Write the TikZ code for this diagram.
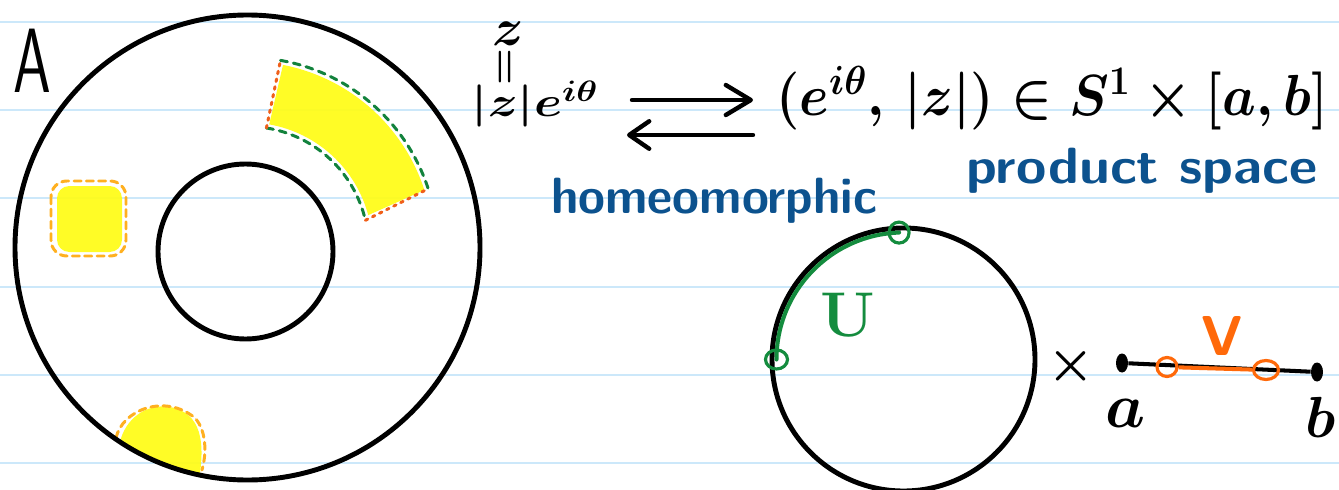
\RequirePackage{fix-cm}
\documentclass[tikz,border=0pt]{standalone}
\usepackage{tikz}
\usetikzlibrary{arrows.meta,shapes.geometric,positioning}

\definecolor{ruleblue}{RGB}{204,232,250}
\definecolor{blobyellow}{RGB}{255,252,20}
\definecolor{bloborange}{RGB}{255,176,32}
\definecolor{bandgreen}{RGB}{18,130,60}
\definecolor{bandred}{RGB}{240,95,25}
\definecolor{ugreen}{RGB}{20,140,62}
\definecolor{vorange}{RGB}{255,105,10}
\definecolor{noteblue}{RGB}{12,82,142}

\tikzset{
  ruled/.style={
    line width=1.1pt,
    ruleblue
  },
  ring/.style={
    line width=2.8pt
  },
  blob/.style={
    fill=blobyellow,
    fill opacity=0.92
  },
  blobedge/.style={
    draw=bloborange,
    line width=1.7pt,
    line cap=round,
    dash pattern=on 4pt off 3pt
  },
  openedge/.style={
    draw=bandgreen,
    line width=1.7pt,
    line cap=round,
    dash pattern=on 4pt off 3.5pt
  },
  closededge/.style={
    draw=bandred,
    line width=1.7pt,
    line cap=round,
    dash pattern=on 1.5pt off 3pt
  },
  rarrow/.style={
    line width=2.5pt,
    line cap=round,
    -{Straight Barb[length=5mm,width=6mm,round]}
  },
  larrow/.style={
    line width=2.5pt,
    line cap=round,
    -{Straight Barb[length=4mm,width=5.5mm,round]}
  },
  formula/.style={
    inner sep=0pt,
    font=\boldmath\fontsize{33}{33}\selectfont
  },
  note/.style={
    inner sep=0pt,
    text=noteblue,
    font=\sffamily\bfseries\fontsize{29}{29}\selectfont
  },
  endpt/.style={
    shape=ellipse,
    fill,
    inner sep=0pt,
    minimum width=0.24cm,
    minimum height=0.38cm
  },
  openpt/.style={
    shape=ellipse,
    draw,
    line width=1.8pt,
    inner sep=0pt,
    minimum width=0.44cm,
    minimum height=0.38cm
  }
}

\begin{document}
\begin{tikzpicture}[x=0.02cm,y=-0.02cm]
    \def\ox{247.5}
    \def\oy{247.5}
    \def\sx{903.5}
    \def\sy{359.5}
    \path[use as bounding box,fill=white] (0,0) rectangle (1339,490);
    \foreach \ly in {22,110,198,287,375,463}
        \draw[ruled] (0,\ly) -- (1339,\ly);

    % the set A with its open pieces
    \begin{scope}[shift={(\ox,\oy)}]
        \fill[blob] (-79:186) arc[start angle=-79,end angle=-18,radius=186]
            -- (-15:125) arc[start angle=-15,end angle=-80,radius=125] -- cycle;
        \draw[openedge] (-80:190) arc[start angle=-80,end angle=-18,radius=190];
        \draw[openedge] (-81:121) arc[start angle=-81,end angle=-13,radius=121];
        \draw[closededge] (-81:121) -- (-80:190);
        \draw[closededge] (-13:121) -- (-18:190);
    \end{scope}
    \fill[blob,rounded corners=7pt] (57,186) rectangle (122,252);
    \draw[blobedge,rounded corners=9pt] (51,181) rectangle (126,256);
    \fill[blob] (120,442) arc[start angle=123.2,end angle=101.8,radius=232.5]
        .. controls (204,445) and (203,413) .. (170,407)
        .. controls (145,403) and (125,420) .. (120,442) -- cycle;
    \draw[blobedge] (116,438) .. controls (122,410) and (165,393) .. (195,418)
        .. controls (206,430) and (207,452) .. (202,470);
    \draw[ring] (\ox,\oy) circle[radius=232.5];
    \draw[ring] (245.5,251.5) circle[radius=87.5];
    \node[font=\sffamily\fontsize{52}{52}\selectfont,inner sep=0pt,xscale=0.66,anchor=base] (setA) at (32,92) {A};

    % polar form and the product
    \node[formula,font=\boldmath\fontsize{30}{30}\selectfont] (zed) at (508,34) {$z$};
    \node[formula,font=\boldmath\fontsize{24}{24}\selectfont,rotate=90] (eq) at (507,67) {$=$};
    \node[formula,font=\boldmath\fontsize{24}{24}\selectfont,xscale=1.2,anchor=east] (polar) at (599,104) {$|z|e^{i\theta}$};
    \node[formula,xscale=0.92,anchor=west] (prod) at (776,98) {$(e^{i\theta},\,|z|)\in S^1\times[a,b]$};
    \draw[rarrow,shorten <=0.66cm,shorten >=0.46cm] ([yshift=0.08cm]polar.east) -- ([yshift=0.08cm]polar.east -| prod.west);
    \draw[larrow,shorten <=0.46cm,shorten >=0.56cm] ([yshift=-0.62cm]polar.east -| prod.west) -- ([yshift=-0.62cm]polar.east);
    \node[note,anchor=base,xscale=0.96] (homeo) at (714,213) {homeomorphic};
    \node[note,anchor=base,xscale=1.08] (prodsp) at (1142,183) {product space};

    % circle times interval
    \draw[ring] (\sx,\sy) circle[radius=131.5];
    \coordinate (ustart) at (776.5,359.5);
    \draw[ugreen,line width=2.3pt,line cap=round] (ustart) arc[start angle=180,end angle=268,radius=127] coordinate (uend);
    \node[openpt,draw=ugreen] (ua) at (ustart) {};
    \node[openpt,draw=ugreen,minimum width=0.4cm,minimum height=0.42cm] (ub) at (uend) {};
    \node[text=ugreen,inner sep=0pt,font=\bfseries\fontsize{36}{36}\selectfont] (ulab) at (848,315) {U};
    \node[formula,font=\boldmath\fontsize{30}{30}\selectfont] (times) at (1071,366) {$\times$};
    \node[endpt] (pa) at (1122,363) {};
    \node[endpt] (pb) at (1317,372) {};
    \draw[line width=2.3pt] (pa) -- (pb);
    \node[openpt,draw=vorange,minimum width=0.4cm] (va) at (1167,367) {};
    \node[openpt,draw=vorange,minimum width=0.5cm] (vb) at (1266,370) {};
    \draw[vorange,line width=2.3pt] (va) -- (vb);
    \node[text=vorange,inner sep=0pt,font=\sffamily\bfseries\fontsize{32}{32}\selectfont] (vlab) at (1222,336) {V};
    \node[formula,font=\boldmath\fontsize{36}{36}\selectfont,anchor=base] (alab) at (1126,427) {$a$};
    \node[formula,anchor=base] (blab) at (1321,437) {$b$};
\end{tikzpicture}
\end{document}
